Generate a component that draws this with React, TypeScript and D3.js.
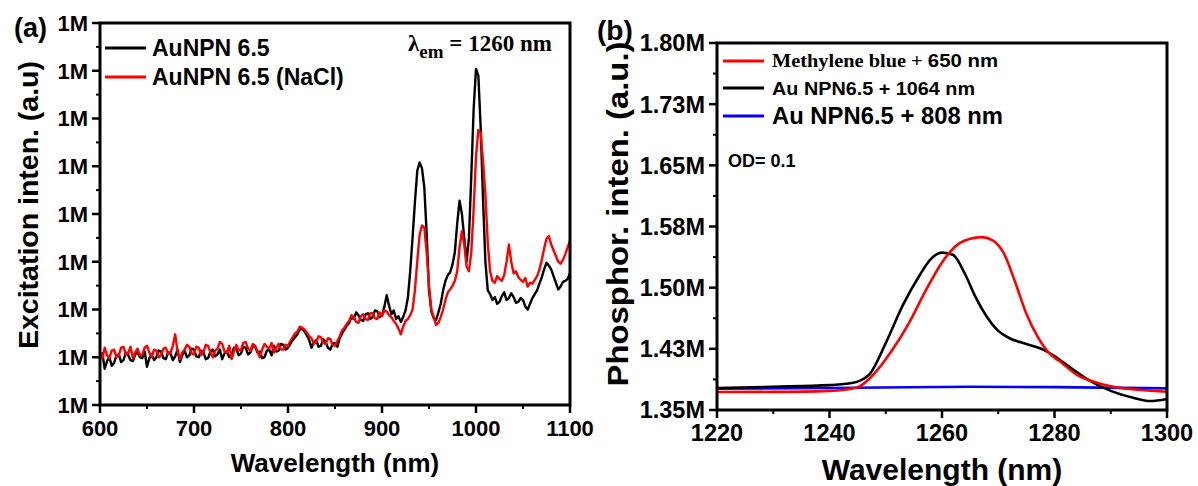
import React from "react";
import * as d3 from "d3";

// ---------- Panel (a): excitation spectra, sampled every 2.5 nm ----------
const excitationWavelengths = d3.range(600, 1100.1, 2.5);

// AuNPN 6.5 (values in millions), one row per 50 nm
const auNpnExcitation = [
  1.048, 1.054, 1.038, 1.046, 1.05, 1.041, 1.044, 1.052, 1.053, 1.045, 1.047, 1.055, 1.052, 1.047, 1.046, 1.053, 1.055, 1.05, 1.049, 1.056,
  1.04, 1.049, 1.053, 1.047, 1.05, 1.057, 1.056, 1.049, 1.048, 1.055, 1.054, 1.047, 1.051, 1.058, 1.045, 1.052, 1.057, 1.05, 1.052, 1.059,
  1.058, 1.051, 1.05, 1.057, 1.055, 1.048, 1.049, 1.056, 1.058, 1.051, 1.053, 1.058, 1.048, 1.054, 1.056, 1.05, 1.052, 1.06, 1.059, 1.052,
  1.054, 1.061, 1.06, 1.053, 1.055, 1.062, 1.061, 1.055, 1.056, 1.049, 1.05, 1.057, 1.058, 1.052, 1.062, 1.056, 1.057, 1.064, 1.063, 1.058,
  1.06, 1.064, 1.068, 1.071, 1.074, 1.079, 1.08, 1.077, 1.073, 1.068, 1.06, 1.066, 1.068, 1.061, 1.062, 1.069, 1.066, 1.06, 1.058, 1.064,
  1.065, 1.061, 1.07, 1.075, 1.079, 1.083, 1.086, 1.092, 1.09, 1.097, 1.094, 1.089, 1.088, 1.095, 1.096, 1.09, 1.092, 1.099, 1.098, 1.092,
  1.094, 1.103, 1.115, 1.104, 1.095, 1.099, 1.09, 1.093, 1.087, 1.092, 1.099, 1.112, 1.14, 1.175, 1.212, 1.245, 1.254, 1.248, 1.228, 1.18,
  1.12, 1.098, 1.091, 1.089, 1.097, 1.106, 1.12, 1.13, 1.136, 1.139, 1.147, 1.16, 1.19, 1.214, 1.2, 1.175, 1.15, 1.175, 1.24, 1.31,
  1.352, 1.345, 1.29, 1.215, 1.15, 1.12, 1.116, 1.11, 1.113, 1.106, 1.108, 1.114, 1.118, 1.11, 1.112, 1.117, 1.113, 1.107, 1.108, 1.112,
  1.11, 1.103, 1.1, 1.106, 1.112, 1.116, 1.12, 1.127, 1.134, 1.142, 1.149, 1.146, 1.142, 1.135, 1.128, 1.121, 1.124, 1.129, 1.13, 1.132,
  1.138,
];

// AuNPN 6.5 (NaCl) (values in millions), one row per 50 nm
const auNpnNaClExcitation = [
  1.055, 1.049, 1.06, 1.052, 1.049, 1.057, 1.058, 1.05, 1.052, 1.06, 1.061, 1.053, 1.054, 1.061, 1.049, 1.055, 1.059, 1.052, 1.053, 1.06,
  1.062, 1.055, 1.05, 1.058, 1.057, 1.05, 1.052, 1.059, 1.06, 1.053, 1.055, 1.062, 1.074, 1.056, 1.048, 1.055, 1.058, 1.063, 1.061, 1.054,
  1.053, 1.061, 1.06, 1.052, 1.055, 1.063, 1.062, 1.055, 1.05, 1.057, 1.059, 1.066, 1.064, 1.056, 1.055, 1.062, 1.048, 1.056, 1.063, 1.057,
  1.058, 1.065, 1.066, 1.059, 1.057, 1.064, 1.062, 1.056, 1.05, 1.058, 1.064, 1.061, 1.059, 1.065, 1.055, 1.06, 1.064, 1.058, 1.058, 1.063,
  1.062, 1.067, 1.071, 1.075, 1.077, 1.082, 1.081, 1.079, 1.076, 1.072, 1.07, 1.064, 1.066, 1.072, 1.071, 1.065, 1.064, 1.07, 1.069, 1.063,
  1.062, 1.067, 1.072, 1.078, 1.081, 1.085, 1.088, 1.094, 1.092, 1.087, 1.086, 1.093, 1.095, 1.09, 1.089, 1.096, 1.096, 1.091, 1.09, 1.097,
  1.093, 1.099, 1.098, 1.094, 1.092, 1.088, 1.085, 1.08, 1.074, 1.082, 1.088, 1.09, 1.094, 1.1, 1.12, 1.15, 1.178, 1.188, 1.186, 1.16,
  1.125, 1.1, 1.092, 1.084, 1.086, 1.092, 1.1, 1.11, 1.118, 1.121, 1.125, 1.13, 1.14, 1.165, 1.182, 1.168, 1.145, 1.14, 1.16, 1.205,
  1.26, 1.288, 1.285, 1.255, 1.22, 1.17, 1.14, 1.13, 1.128, 1.135, 1.132, 1.13, 1.136, 1.15, 1.168, 1.15, 1.138, 1.14, 1.134, 1.131,
  1.129, 1.133, 1.124, 1.128, 1.127, 1.131, 1.135, 1.142, 1.152, 1.164, 1.174, 1.177, 1.168, 1.162, 1.156, 1.15, 1.148, 1.152, 1.158, 1.165,
  1.172,
];

const excitationXTicks = [600, 700, 800, 900, 1000, 1100];
const excitationYTicks = [1.0, 1.05, 1.1, 1.15, 1.2, 1.25, 1.3, 1.35, 1.4];

// ---------- Panel (b): phosphorescence spectra ----------
const methyleneBlueWl = [1220, 1230, 1240, 1245, 1248, 1251, 1254, 1257, 1260, 1263, 1265, 1267, 1269, 1271, 1273, 1275, 1277, 1279, 1281, 1284, 1287, 1290, 1293, 1300];
const methyleneBlueVal = [1.372, 1.3722, 1.3735, 1.378, 1.395, 1.422, 1.455, 1.495, 1.531, 1.554, 1.56, 1.562, 1.558, 1.542, 1.507, 1.468, 1.44, 1.42, 1.4095, 1.393, 1.3847, 1.379, 1.376, 1.3723];

const auNpn1064Wl = [1220, 1230, 1240, 1244, 1247, 1250, 1253, 1256, 1258, 1260, 1262, 1264, 1266, 1268, 1270, 1272, 1275, 1278, 1280, 1283, 1286, 1290, 1294, 1297, 1300];
const auNpn1064Val = [1.377, 1.3785, 1.3805, 1.383, 1.393, 1.432, 1.478, 1.515, 1.535, 1.543, 1.54, 1.518, 1.488, 1.464, 1.447, 1.438, 1.431, 1.424, 1.416, 1.401, 1.387, 1.3735, 1.365, 1.361, 1.3636];

const auNpn808Wl = [1220, 1240, 1265, 1280, 1300];
const auNpn808Val = [1.376, 1.377, 1.3785, 1.378, 1.3765];

const phosphorXTicks = [1220, 1240, 1260, 1280, 1300];
const phosphorYTicks = [1.35, 1.425, 1.5, 1.575, 1.65, 1.725, 1.8];

const SANS = "'Liberation Sans', Arial, sans-serif";
const SERIF = "'Liberation Serif', 'Times New Roman', serif";

type Box = { left: number; right: number; top: number; bottom: number };

function Frame({ box }: { box: Box }) {
  return (
    <rect
      x={box.left}
      y={box.top}
      width={box.right - box.left}
      height={box.bottom - box.top}
      fill="none"
      stroke="#000"
      strokeWidth={3}
    />
  );
}

function Axes({
  box,
  x,
  y,
  xTicks,
  yTicks,
  xMinor,
  yMinor,
  xFmt,
  yFmt,
  fontSize,
}: {
  box: Box;
  x: d3.ScaleLinear<number, number>;
  y: d3.ScaleLinear<number, number>;
  xTicks: number[];
  yTicks: number[];
  xMinor: number[];
  yMinor: number[];
  xFmt: (v: number) => string;
  yFmt: (v: number) => string;
  fontSize: number;
}) {
  return (
    <g>
      {xTicks.map((t) => (
        <g key={"xt" + t}>
          <line x1={x(t)} x2={x(t)} y1={box.bottom} y2={box.bottom + 8} stroke="#000" strokeWidth={2.5} />
          <text
            x={x(t)}
            y={box.bottom + 31}
            textAnchor="middle"
            fontFamily={SANS}
            fontWeight="bold"
            fontSize={fontSize}
          >
            {xFmt(t)}
          </text>
        </g>
      ))}
      {xMinor.map((t) => (
        <line key={"xm" + t} x1={x(t)} x2={x(t)} y1={box.bottom} y2={box.bottom + 4} stroke="#000" strokeWidth={2} />
      ))}
      {yTicks.map((t) => (
        <g key={"yt" + t}>
          <line x1={box.left - 8} x2={box.left} y1={y(t)} y2={y(t)} stroke="#000" strokeWidth={2.5} />
          <text
            x={box.left - 12}
            y={y(t)}
            dy="0.36em"
            textAnchor="end"
            fontFamily={SANS}
            fontWeight="bold"
            fontSize={fontSize}
          >
            {yFmt(t)}
          </text>
        </g>
      ))}
      {yMinor.map((t) => (
        <line key={"ym" + t} x1={box.left - 4} x2={box.left} y1={y(t)} y2={y(t)} stroke="#000" strokeWidth={2} />
      ))}
    </g>
  );
}

function midpoints(ticks: number[]) {
  return ticks.slice(1).map((t, i) => (t + ticks[i]) / 2);
}

function PanelA() {
  const box: Box = { left: 100, right: 570, top: 23, bottom: 405 };
  const x = d3.scaleLinear().domain([600, 1100]).range([box.left, box.right]);
  const y = d3.scaleLinear().domain([1.0, 1.4]).range([box.bottom, box.top]);
  const line = d3
    .line<[number, number]>()
    .x((d) => x(d[0]))
    .y((d) => y(d[1]));
  const black = excitationWavelengths.map((w, i) => [w, auNpnExcitation[i]] as [number, number]);
  const red = excitationWavelengths.map((w, i) => [w, auNpnNaClExcitation[i]] as [number, number]);
  const fmtM = (v: number) => d3.format(".1s")(Math.round(v * 1e6));

  return (
    <g>
      <path d={line(black) ?? ""} fill="none" stroke="#000" strokeWidth={2.4} strokeLinejoin="round" />
      <path d={line(red) ?? ""} fill="none" stroke="#ff0000" strokeWidth={2.4} strokeLinejoin="round" />
      <Frame box={box} />
      <Axes
        box={box}
        x={x}
        y={y}
        xTicks={excitationXTicks}
        yTicks={excitationYTicks}
        xMinor={midpoints(excitationXTicks)}
        yMinor={midpoints(excitationYTicks)}
        xFmt={(v) => String(v)}
        yFmt={fmtM}
        fontSize={22}
      />
      <text x={14} y={37} fontFamily={SANS} fontWeight="bold" fontSize={27}>(a)</text>
      {/* legend */}
      <line x1={105} x2={146} y1={48} y2={48} stroke="#000" strokeWidth={3} />
      <text x={152} y={48} dy="0.36em" fontFamily={SANS} fontWeight="bold" fontSize={23}>AuNPN 6.5</text>
      <line x1={105} x2={146} y1={77} y2={77} stroke="#ff0000" strokeWidth={3} />
      <text x={152} y={77} dy="0.36em" fontFamily={SANS} fontWeight="bold" fontSize={23}>AuNPN 6.5 (NaCl)</text>
      <text x={408} y={51} fontFamily={SERIF} fontWeight="bold" fontSize={23}>
        λ<tspan dy={7} fontSize={19}>em</tspan>
        <tspan dy={-7}> = 1260 nm</tspan>
      </text>
      <text
        x={(box.left + box.right) / 2}
        y={472}
        textAnchor="middle"
        fontFamily={SANS}
        fontWeight="bold"
        fontSize={26}
      >
        Wavelength (nm)
      </text>
      <text
        transform={`translate(38, 205) rotate(-90)`}
        textAnchor="middle"
        fontFamily={SANS}
        fontWeight="bold"
        fontSize={28}
        textLength={288}
        lengthAdjust="spacingAndGlyphs"
      >
        Excitation inten. (a.u)
      </text>
    </g>
  );
}

function PanelB() {
  const box: Box = { left: 717, right: 1167, top: 43, bottom: 410 };
  const x = d3.scaleLinear().domain([1220, 1300]).range([box.left, box.right]);
  const y = d3.scaleLinear().domain([1.35, 1.8]).range([box.bottom, box.top]);
  const line = d3
    .line<[number, number]>()
    .x((d) => x(d[0]))
    .y((d) => y(d[1]))
    .curve(d3.curveMonotoneX);
  const mb = methyleneBlueWl.map((w, i) => [w, methyleneBlueVal[i]] as [number, number]);
  const k = auNpn1064Wl.map((w, i) => [w, auNpn1064Val[i]] as [number, number]);
  const b = auNpn808Wl.map((w, i) => [w, auNpn808Val[i]] as [number, number]);
  const fmtM = (v: number) => d3.format(".3s")(Math.round(v * 1e6));

  return (
    <g>
      <path d={line(b) ?? ""} fill="none" stroke="#0000ff" strokeWidth={2.6} />
      <path d={line(k) ?? ""} fill="none" stroke="#000" strokeWidth={2.6} strokeLinejoin="round" />
      <path d={line(mb) ?? ""} fill="none" stroke="#ff0000" strokeWidth={2.6} />
      <Frame box={box} />
      <Axes
        box={box}
        x={x}
        y={y}
        xTicks={phosphorXTicks}
        yTicks={phosphorYTicks}
        xMinor={midpoints(phosphorXTicks)}
        yMinor={midpoints(phosphorYTicks)}
        xFmt={(v) => String(v)}
        yFmt={fmtM}
        fontSize={23.5}
      />
      <text x={597} y={40} fontFamily={SANS} fontWeight="bold" fontSize={28}>(b)</text>
      {/* legend */}
      <line x1={723} x2={764} y1={61} y2={61} stroke="#ff0000" strokeWidth={3} />
      <text x={772} y={61} dy="0.34em" fontWeight="bold" fontSize={18} textLength={226} lengthAdjust="spacingAndGlyphs">
        <tspan fontFamily={SERIF}>Methylene blue + </tspan>
        <tspan fontFamily={SANS}>650 nm</tspan>
      </text>
      <line x1={723} x2={764} y1={88} y2={88} stroke="#000" strokeWidth={3} />
      <text x={772} y={88} dy="0.36em" fontFamily={SANS} fontWeight="bold" fontSize={19} textLength={203} lengthAdjust="spacingAndGlyphs">
        Au NPN6.5 + 1064 nm
      </text>
      <line x1={723} x2={764} y1={116} y2={116} stroke="#0000ff" strokeWidth={3} />
      <text x={772} y={116} dy="0.36em" fontFamily={SANS} fontWeight="bold" fontSize={23} textLength={231} lengthAdjust="spacingAndGlyphs">
        Au NPN6.5 + 808 nm
      </text>
      <text x={728} y={161} dy="0.36em" fontFamily={SANS} fontWeight="bold" fontSize={18}>
        OD= 0.1
      </text>
      <text
        x={(box.left + box.right) / 2}
        y={480}
        textAnchor="middle"
        fontFamily={SANS}
        fontWeight="bold"
        fontSize={30}
      >
        Wavelength (nm)
      </text>
      <text
        transform={`translate(628, 214) rotate(-90)`}
        textAnchor="middle"
        fontFamily={SANS}
        fontWeight="bold"
        fontSize={30}
        textLength={345}
        lengthAdjust="spacingAndGlyphs"
      >
        Phosphor. inten. (a.u.)
      </text>
    </g>
  );
}

export default function App() {
  return (
    <svg
      width={1198}
      height={486}
      viewBox="0 0 1198 486"
      style={{ position: "absolute", left: 0, top: 0, background: "#fff" }}
    >
      <rect width={1198} height={486} fill="#fff" />
      <PanelA />
      <PanelB />
    </svg>
  );
}
